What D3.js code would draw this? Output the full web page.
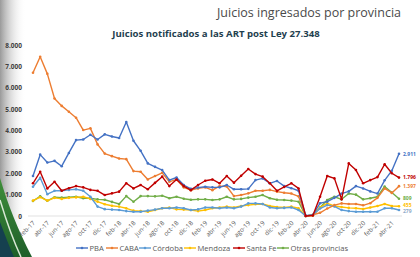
<!DOCTYPE html>
<html lang="es">
<head>
<meta charset="UTF-8">
<title>Juicios ingresados por provincia</title>
<script src="https://d3js.org/d3.v7.min.js"></script>
<style>
    body { margin: 0; background: #fff; }
    #chart { width: 420px; height: 257px; }
    text { font-family: "Open Sans", "Noto Sans", sans-serif; }
</style>
</head>
<body>
<div id="chart"></div>
<script>
    // meses feb-17 .. may-21
    const months = ["feb-17","mar-17","abr-17","may-17","jun-17","jul-17","ago-17","sep-17","oct-17","nov-17","dic-17",
        "ene-18","feb-18","mar-18","abr-18","may-18","jun-18","jul-18","ago-18","sep-18","oct-18","nov-18","dic-18",
        "ene-19","feb-19","mar-19","abr-19","may-19","jun-19","jul-19","ago-19","sep-19","oct-19","nov-19","dic-19",
        "ene-20","feb-20","mar-20","abr-20","may-20","jun-20","jul-20","ago-20","sep-20","oct-20","nov-20","dic-20",
        "ene-21","feb-21","mar-21","abr-21","may-21"];

    const pba = [1870,2870,2500,2580,2330,2950,3550,3580,3800,3580,3820,3720,3650,4400,3520,3050,2460,2300,2150,1680,1800,1450,1270,
        1330,1370,1340,1340,1450,1250,1250,1270,1680,1760,1530,1640,1400,1300,1180,20,50,600,670,850,1050,1150,1400,1290,1150,1050,1670,2120,2911];
    const caba = [6700,7450,6650,5500,5150,4880,4600,4020,4100,3350,2920,2800,2690,2660,2100,2070,1710,1870,2020,1600,1710,1340,1210,
        1290,1340,1210,1400,1380,930,980,1060,1180,1180,1220,1140,1090,1050,920,0,50,150,350,510,590,560,560,500,600,850,1290,1080,1397];
    const cordoba = [1370,1790,1020,1180,1180,1220,1250,1180,900,440,320,300,280,230,200,200,250,300,360,360,400,360,280,
        310,400,400,360,400,360,440,590,590,560,400,360,380,400,280,0,50,350,510,450,280,230,200,200,200,200,360,360,279];
    const mendoza = [720,880,720,850,800,850,870,900,800,670,550,480,440,360,250,230,200,280,360,390,310,300,280,
        230,280,360,400,440,400,470,510,550,560,470,420,400,440,360,0,20,400,590,470,420,380,360,330,400,470,560,470,455];
    const santaFe = [1530,2070,1290,1600,1180,1300,1400,1340,1220,1180,980,1060,1140,1530,1290,1450,1250,1550,1840,1400,1710,1400,1210,
        1450,1650,1710,1530,1870,1560,1880,2200,1960,1840,1530,1180,1360,1530,1290,0,20,900,1870,1760,780,2460,2150,1530,1680,1820,2420,2000,1796];
    const otras = [700,920,710,880,860,880,900,830,830,780,760,660,560,930,670,930,930,920,950,830,900,810,760,
        780,780,750,780,900,780,800,860,900,980,830,760,750,720,670,0,60,400,750,900,780,1050,1000,780,830,900,1380,1100,809];

    const seriesNames = ["PBA", "CABA", "Córdoba", "Mendoza", "Santa Fe", "Otras provincias"];
    const seriesValues = [pba, caba, cordoba, mendoza, santaFe, otras];
    const seriesColors = ["#4472c4", "#ed7d31", "#5b9bd5", "#ffc000", "#c00000", "#70ad47"];
    const endLabels = ["2.911", "1.397", "279", "455", "1.796", "809"];
    const yTicks = [0, 1000, 2000, 3000, 4000, 5000, 6000, 7000, 8000];

    const W = 420, H = 257;
    const svg = d3.select("#chart").append("svg")
        .attr("width", W)
        .attr("height", H);

    // fondo decorativo a la izquierda
    const defs = svg.append("defs");
    const fade = defs.append("linearGradient").attr("id", "fade");
    fade.append("stop").attr("offset", "0%").attr("stop-color", "#9a9a9a");
    fade.append("stop").attr("offset", "100%").attr("stop-color", "#ffffff").attr("stop-opacity", 0);
    const greenGrad = defs.append("linearGradient").attr("id", "green")
        .attr("x1", 0).attr("y1", 0).attr("x2", 0).attr("y2", 1);
    greenGrad.append("stop").attr("offset", "0%").attr("stop-color", "#3f8f3a");
    greenGrad.append("stop").attr("offset", "100%").attr("stop-color", "#1f5f2a");

    svg.append("rect")
        .attr("x", 0).attr("y", 0)
        .attr("width", 26).attr("height", H)
        .attr("fill", "url(#fade)");
    svg.append("path")
        .attr("d", "M0,178 C8,205 18,230 32,257 L0,257 Z")
        .attr("fill", "url(#green)");
    svg.append("path")
        .attr("d", "M0,200 C6,220 12,238 21,257")
        .attr("fill", "none")
        .attr("stroke", "#d9e8d5")
        .attr("stroke-width", 1.5);
    svg.append("path")
        .attr("d", "M0,222 C5,235 9,246 14,257 L0,257 Z")
        .attr("fill", "#15404f");

    // títulos
    svg.append("text")
        .attr("x", 401).attr("y", 17)
        .attr("text-anchor", "end")
        .attr("font-size", 12.5)
        .attr("fill", "#4a4a4a")
        .text("Juicios ingresados por provincia");
    svg.append("text")
        .attr("x", 216).attr("y", 37)
        .attr("text-anchor", "middle")
        .attr("font-size", 9.6)
        .attr("font-weight", "bold")
        .attr("fill", "#1f3f4f")
        .text("Juicios notificados a las ART post Ley 27.348");

    const x = d3.scalePoint().domain(months).range([33, 399]);
    const y = d3.scaleLinear().domain([0, 8000]).range([216, 45]);

    // eje Y
    const yAxis = svg.append("g")
        .attr("transform", "translate(22,0)")
        .call(d3.axisLeft(y).tickValues(yTicks).tickSize(0).tickPadding(0)
            .tickFormat(d => d === 0 ? "0" : d3.format(",")(d).replace(/,/g, ".")));
    yAxis.select(".domain").remove();
    yAxis.selectAll("text")
        .attr("font-size", 6.5)
        .attr("font-weight", "bold")
        .attr("fill", "#404040");

    // línea base
    svg.append("line")
        .attr("x1", 28).attr("x2", 402)
        .attr("y1", y(0)).attr("y2", y(0))
        .attr("stroke", "#d9d9d9")
        .attr("stroke-width", 0.8);

    // etiquetas eje X (cada dos meses)
    const xLabels = months.filter((m, i) => i % 2 === 0);
    svg.append("g").selectAll("text")
        .data(xLabels)
        .join("text")
        .attr("transform", d => `translate(${x(d) + 1},${y(0) + 6}) rotate(-45)`)
        .attr("text-anchor", "end")
        .attr("dy", "0.35em")
        .attr("font-size", 6.3)
        .attr("fill", "#595959")
        .text(d => d);

    const line = d3.line()
        .x((d, i) => x(months[i]))
        .y(d => y(d));

    const order = [5, 3, 2, 1, 0, 4];
    order.forEach(s => {
        const g = svg.append("g");
        g.append("path")
            .datum(seriesValues[s])
            .attr("d", line)
            .attr("fill", "none")
            .attr("stroke", seriesColors[s])
            .attr("stroke-width", 1.4)
            .attr("stroke-linejoin", "round");
        g.selectAll("circle")
            .data(seriesValues[s])
            .join("circle")
            .attr("cx", (d, i) => x(months[i]))
            .attr("cy", d => y(d))
            .attr("r", 1.3)
            .attr("fill", seriesColors[s]);
    });

    // etiquetas finales (pequeño ajuste vertical para que no se pisen)
    const lastMonth = months[months.length - 1];
    const labelShift = [0, 0, 1.5, -1.5, 0, 0];
    seriesValues.forEach((vals, s) => {
        svg.append("text")
            .attr("x", x(lastMonth) + 4)
            .attr("y", y(vals[vals.length - 1]) + labelShift[s])
            .attr("dy", "0.35em")
            .attr("font-size", 5)
            .attr("font-weight", "bold")
            .attr("fill", s === 2 ? "#8ea9c8" : seriesColors[s])
            .text(endLabels[s]);
    });

    // leyenda
    const legendX = [76, 106, 139, 184, 233, 277];
    const legend = svg.append("g").attr("transform", "translate(0,248)");
    seriesNames.forEach((name, s) => {
        const item = legend.append("g").attr("transform", `translate(${legendX[s]},0)`);
        item.append("line")
            .attr("x1", 0).attr("x2", 12)
            .attr("stroke", seriesColors[s])
            .attr("stroke-width", 1.4);
        item.append("circle")
            .attr("cx", 6).attr("r", 1.3)
            .attr("fill", seriesColors[s]);
        item.append("text")
            .attr("x", 13.5)
            .attr("dy", "0.35em")
            .attr("font-size", 7.6)
            .attr("fill", "#595959")
            .text(name);
    });
</script>
</body>
</html>
